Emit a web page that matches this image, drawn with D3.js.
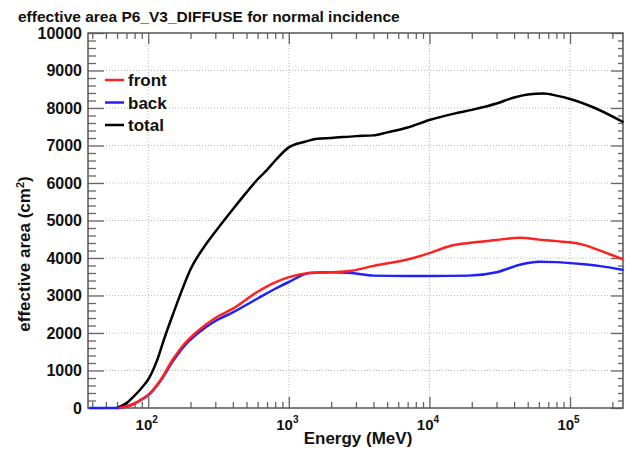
<!DOCTYPE html>
<html>
<head>
<meta charset="utf-8">
<script src="https://cdn.jsdelivr.net/npm/d3@7"></script>
<style>
  body { margin: 0; background: #fff; }
  text { font-family: "Liberation Sans", Arial, sans-serif; font-weight: bold; fill: #111; }
</style>
</head>
<body>
<div id="chart"></div>
<script>
// energies (MeV) and effective areas (cm^2)
const totalE = [60, 70, 80, 90, 100, 115, 130, 150, 170, 200, 250, 300, 400, 500, 600, 700, 800, 1000, 1300, 1600, 2000, 3000, 4000, 5000, 7000, 10000, 15000, 20000, 30000, 40000, 50000, 65000, 80000, 100000, 150000, 240000];
const totalA = [0, 130, 330, 540, 760, 1250, 1850, 2500, 3050, 3700, 4300, 4700, 5300, 5750, 6100, 6350, 6600, 6950, 7100, 7180, 7200, 7250, 7270, 7350, 7480, 7680, 7850, 7950, 8120, 8280, 8360, 8390, 8330, 8240, 8000, 7620];

const frontE = [62, 70, 80, 90, 100, 120, 150, 180, 230, 300, 400, 600, 800, 1000, 1400, 2000, 2800, 4000, 7000, 10000, 14000, 19000, 30000, 44000, 60000, 80000, 120000, 160000, 240000];
const frontA = [0, 40, 120, 230, 350, 700, 1300, 1700, 2080, 2400, 2650, 3100, 3350, 3490, 3600, 3620, 3660, 3790, 3960, 4130, 4320, 4400, 4480, 4540, 4490, 4450, 4370, 4210, 3960];

const backE = [38, 62, 70, 80, 90, 100, 120, 150, 180, 230, 300, 400, 600, 800, 1000, 1400, 2000, 2800, 4000, 7000, 10000, 19000, 30000, 44000, 60000, 80000, 120000, 160000, 240000];
const backA = [0, 0, 40, 120, 230, 340, 680, 1250, 1650, 2020, 2320, 2550, 2920, 3180, 3360, 3600, 3620, 3600, 3530, 3520, 3520, 3530, 3620, 3820, 3900, 3890, 3840, 3790, 3680];

const seriesNames = ["front", "back", "total"];
const seriesColors = ["#ff2020", "#2020ff", "#000000"];

const yMajor = d3.range(0, 10001, 1000);
const yMinor = d3.range(0, 10001, 200).filter(v => v % 1000 !== 0);
const xMajor = [100, 1000, 10000, 100000];

const W = 625, H = 450;
const margin = {left: 88, right: 2, top: 33, bottom: 42};
const innerW = W - margin.left - margin.right;
const innerH = H - margin.top - margin.bottom;

const svg = d3.select("#chart").append("svg")
    .attr("width", W).attr("height", H);

const g = svg.append("g").attr("transform", `translate(${margin.left},${margin.top})`);

const x = d3.scaleLog().domain([37.3, 238000]).range([0, innerW]);
const y = d3.scaleLinear().domain([0, 10000]).range([innerH, 0]);

// minor x ticks: 2..9 of every decade inside the domain
const xMinor = [];
for (let p = 1; p <= 5; p++) {
    for (let m = 2; m <= 9; m++) {
        const v = m * Math.pow(10, p);
        if (v > x.domain()[0] && v < x.domain()[1]) xMinor.push(v);
    }
}

// grid
g.append("g").selectAll("line.gx")
    .data(xMajor).join("line")
    .attr("x1", d => x(d)).attr("x2", d => x(d))
    .attr("y1", 0).attr("y2", innerH)
    .attr("stroke", "#bbb").attr("stroke-dasharray", "1,2");
g.append("g").selectAll("line.gy")
    .data(yMajor.filter(v => v > 0 && v < 10000)).join("line")
    .attr("x1", 0).attr("x2", innerW)
    .attr("y1", d => y(d)).attr("y2", d => y(d))
    .attr("stroke", "#bbb").attr("stroke-dasharray", "1,2");

function styleAxis(sel) {
    sel.select(".domain").remove();
    sel.selectAll(".tick line").attr("stroke", "#666").attr("stroke-width", 1.3);
}

// left axis
g.append("g").call(d3.axisLeft(y).tickValues(yMajor).tickSize(-16).tickPadding(6).tickFormat(d3.format("d")))
    .call(styleAxis)
    .selectAll("text").style("font-size", "16px").style("font-family", "Liberation Sans, Arial").style("font-weight", "bold");
g.append("g").call(d3.axisLeft(y).tickValues(yMinor).tickSize(-8).tickFormat(""))
    .call(styleAxis);

// right axis (mirror)
g.append("g").attr("transform", `translate(${innerW},0)`)
    .call(d3.axisRight(y).tickValues(yMajor).tickSize(-12).tickFormat(""))
    .call(styleAxis);
g.append("g").attr("transform", `translate(${innerW},0)`)
    .call(d3.axisRight(y).tickValues(yMinor).tickSize(-5).tickFormat(""))
    .call(styleAxis);

// bottom axis
const bottom = g.append("g").attr("transform", `translate(0,${innerH})`)
    .call(d3.axisBottom(x).tickValues(xMajor).tickSize(-11).tickFormat(""))
    .call(styleAxis);
g.append("g").attr("transform", `translate(0,${innerH})`)
    .call(d3.axisBottom(x).tickValues(xMinor).tickSize(-6).tickFormat(""))
    .call(styleAxis);

// top axis (mirror)
g.append("g").call(d3.axisTop(x).tickValues(xMajor).tickSize(-11).tickFormat(""))
    .call(styleAxis);
g.append("g").call(d3.axisTop(x).tickValues(xMinor).tickSize(-6).tickFormat(""))
    .call(styleAxis);

// x tick labels as 10^n
bottom.selectAll(".tick").each(function(d) {
    const t = d3.select(this).append("text")
        .attr("y", 22).attr("x", -2)
        .attr("text-anchor", "middle")
        .style("font-size", "15px");
    t.append("tspan").text("10");
    t.append("tspan").attr("dy", -7).style("font-size", "10px").text(Math.round(Math.log10(d)));
});

// frame
g.append("rect").attr("width", innerW).attr("height", innerH)
    .attr("fill", "none").attr("stroke", "#555").attr("stroke-width", 1.5);

// curves
const line = d3.line()
    .x(d => x(d[0])).y(d => y(d[1]))
    .curve(d3.curveMonotoneX);

const series = [
    {name: "front", pts: d3.zip(frontE, frontA)},
    {name: "back", pts: d3.zip(backE, backA)},
    {name: "total", pts: d3.zip(totalE, totalA)}
];

const plot = g.append("g");
series.slice().reverse().forEach(s => {
    plot.append("path").datum(s.pts)
        .attr("d", line)
        .attr("fill", "none")
        .attr("stroke", seriesColors[seriesNames.indexOf(s.name)])
        .attr("stroke-width", 2.5);
});

// legend
const legend = svg.append("g").attr("transform", "translate(105,80)");
seriesNames.forEach((n, i) => {
    const row = legend.append("g").attr("transform", `translate(0,${i * 22.5})`);
    row.append("line").attr("x1", 0).attr("x2", 19).attr("y1", 0).attr("y2", 0)
        .attr("stroke", seriesColors[i]).attr("stroke-width", 2.5);
    row.append("text").attr("x", 23).attr("y", 6).style("font-size", "17px").text(n);
});

// titles
svg.append("text").attr("x", 18).attr("y", 22).style("font-size", "15.5px")
    .text("effective area P6_V3_DIFFUSE for normal incidence");

svg.append("text").attr("x", 358).attr("y", 444).attr("text-anchor", "middle")
    .style("font-size", "17px").text("Energy (MeV)");

const yt = svg.append("text")
    .attr("transform", "translate(30,254) rotate(-90)")
    .attr("text-anchor", "middle")
    .style("font-size", "17px");
yt.append("tspan").text("effective area (cm");
yt.append("tspan").attr("dy", -6).style("font-size", "11px").text("2");
yt.append("tspan").attr("dy", 6).text(")");
</script>
</body>
</html>
